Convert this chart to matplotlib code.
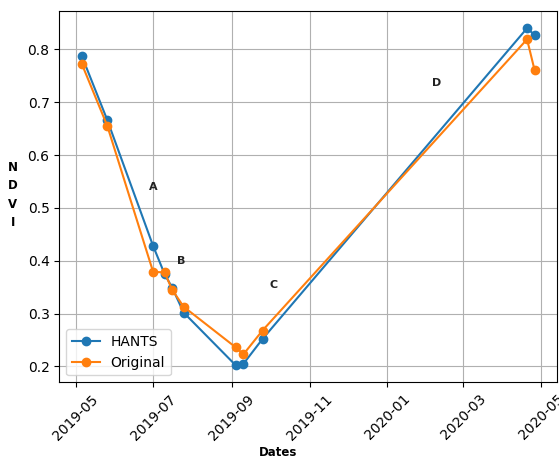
import matplotlib
matplotlib.use("Agg")
import matplotlib.pyplot as plt
import matplotlib.dates as mdates
import pandas as pd

dates = ["2019-05-06", "2019-05-26", "2019-07-01", "2019-07-10", "2019-07-16",
         "2019-07-25", "2019-09-04", "2019-09-10", "2019-09-25", "2020-04-20",
         "2020-04-26"]
hants = [0.787, 0.666, 0.428, 0.375, 0.349, 0.302, 0.202, 0.205, 0.252, 0.840, 0.827]
original = [0.772, 0.655, 0.379, 0.378, 0.345, 0.313, 0.236, 0.223, 0.268, 0.819, 0.760]

annot_text = ["A", "B", "C", "D"]
annot_dates = ["2019-07-01", "2019-07-23", "2019-10-04", "2020-02-09"]
annot_y = [0.540, 0.400, 0.355, 0.736]

x = pd.to_datetime(dates)

fig = plt.figure(figsize=(5.59, 4.61), dpi=100)
ax = fig.add_axes([0.106, 0.1707, 0.891, 0.8048])
ax.plot(x, hants, marker="o", label="HANTS")
ax.plot(x, original, marker="o", label="Original")

for t, d, yv in zip(annot_text, annot_dates, annot_y):
    ax.text(pd.to_datetime(d), yv, t, fontsize=8, fontweight="bold",
            ha="center", va="center", color="#222222")

ax.set_ylim(0.170, 0.872)
ax.set_yticks([0.2, 0.3, 0.4, 0.5, 0.6, 0.7, 0.8])
ax.xaxis.set_major_locator(mdates.MonthLocator(bymonth=[1, 3, 5, 7, 9, 11]))
ax.xaxis.set_major_formatter(mdates.DateFormatter("%Y-%m"))
plt.setp(ax.get_xticklabels(), rotation=45)
ax.grid(True)
ax.legend(loc="lower left")
ax.set_xlabel("Dates", fontsize=8.5, fontweight="bold", va="center")
ax.xaxis.set_label_coords(0.439, -0.188)
ax.set_ylabel("N\nD\nV\nI", fontsize=8.5, fontweight="bold", rotation=0,
              va="center", ha="center", linespacing=1.55)
ax.yaxis.set_label_coords(-0.093, 0.505)

fig.savefig("out.png", dpi=100)
